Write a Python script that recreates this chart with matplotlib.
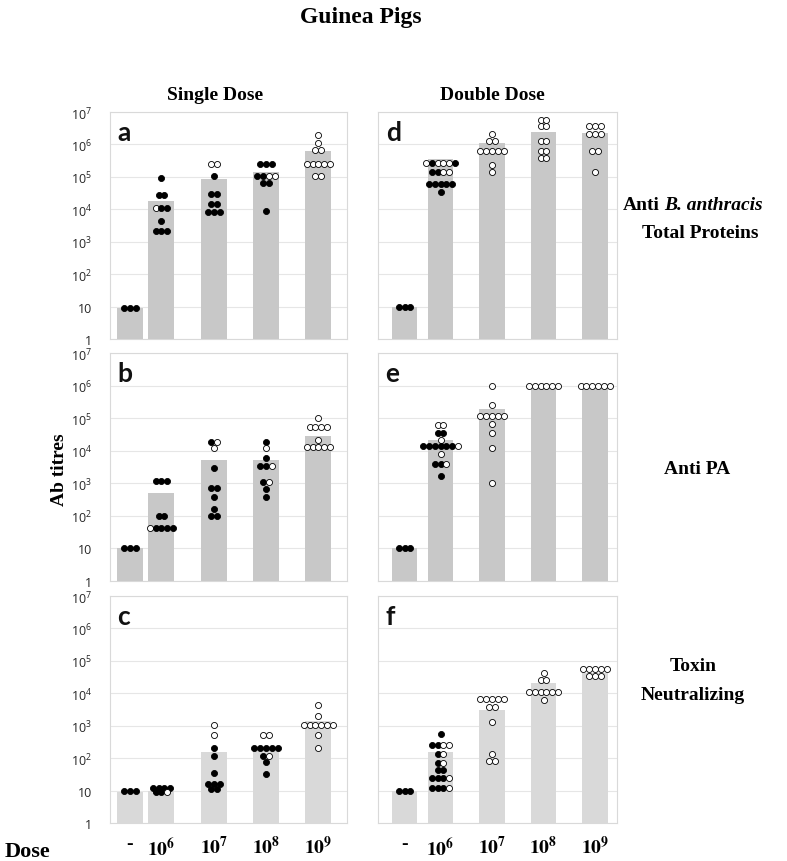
import numpy as np
import matplotlib.pyplot as plt

plt.rcParams['font.family'] = ['Liberation Serif', 'DejaVu Serif']
plt.rcParams['mathtext.fontset'] = 'custom'
plt.rcParams['mathtext.rm'] = 'Open Sans'
plt.rcParams['mathtext.it'] = 'Open Sans:italic'
plt.rcParams['mathtext.bf'] = 'Open Sans:bold'

dose_labels = ['-', r'$\mathbf{10^{6}}$', r'$\mathbf{10^{7}}$', r'$\mathbf{10^{8}}$', r'$\mathbf{10^{9}}$']
ytick_vals = [1, 10, 1e2, 1e3, 1e4, 1e5, 1e6, 1e7]
ytick_labels = ['1', '10', '$10^{2}$', '$10^{3}$', '$10^{4}$', '$10^{5}$', '$10^{6}$', '$10^{7}$']

# bar heights (geometric means) per dose: -, 1e6, 1e7, 1e8, 1e9
a_bars = [9, 1.8e4, 8.5e4, 1.4e5, 6.3e5]
b_bars = [10, 500, 5.1e3, 5.1e3, 2.8e4]
c_bars = [9, 10, 160, 210, 1.4e3]
d_bars = [10, 3.5e5, 1.1e6, 2.4e6, 2.3e6]
e_bars = [10, 2.2e4, 1.9e5, 1.05e6, 1.05e6]
f_bars = [10, 160, 3.1e3, 2.1e4, 4.1e4]

# individual animals; flags: '1' = open circle, '0' = filled
a_vals = [[9, 9, 9],
          [9e4, 2.7e4, 2.7e4, 1.07e4, 1.07e4, 1.07e4, 4.5e3, 2.2e3, 2.2e3, 2.2e3],
          [2.5e5, 2.5e5, 1.1e5, 2.9e4, 2.9e4, 1.5e4, 1.5e4, 8.1e3, 8.1e3, 8.1e3],
          [2.5e5, 2.5e5, 2.5e5, 1.1e5, 1.1e5, 1.1e5, 1.1e5, 6.5e4, 6.5e4, 9e3],
          [1.9e6, 1.1e6, 6.7e5, 6.7e5, 2.5e5, 2.5e5, 2.5e5, 2.5e5, 2.5e5, 1.1e5, 1.1e5]]
a_flags = ['000', '0001000000', '1100000000', '0000011000', '11111111111']

b_vals = [[10, 10, 10],
          [1.2e3, 1.2e3, 1.2e3, 100, 100, 41, 41, 41, 41, 41],
          [1.9e4, 1.9e4, 1.2e4, 2.9e3, 700, 700, 380, 165, 100, 100],
          [1.9e4, 1.2e4, 6e3, 3.4e3, 3.4e3, 3.4e3, 1.1e3, 1.1e3, 680, 380],
          [1e5, 5.3e4, 5.3e4, 5.3e4, 5.3e4, 2.2e4, 1.3e4, 1.3e4, 1.3e4, 1.3e4, 1.3e4]]
b_flags = ['000', '0000010000', '0110000000', '0100010100', '11111111111']

c_vals = [[10, 10, 10],
          [12, 12, 12, 12, 10, 10, 10, 8.8, 8.8, 8.8],
          [1.05e3, 520, 210, 120, 36, 16, 16, 16, 11, 11],
          [520, 520, 210, 210, 210, 210, 210, 120, 120, 77, 33],
          [4.4e3, 2e3, 1.07e3, 1.07e3, 1.07e3, 1.07e3, 1.07e3, 1.07e3, 520, 210]]
c_flags = ['000', '0000000001', '1100000000', '11000000100', '1111111111']

d_vals = [[10, 10, 10],
          [2.7e5, 2.7e5, 2.7e5, 2.7e5, 2.7e5, 2.7e5, 1.45e5, 1.45e5, 1.45e5, 1.45e5,
           6e4, 6e4, 6e4, 6e4, 6e4, 3.3e4],
          [2.1e6, 1.3e6, 1.3e6, 6.3e5, 6.3e5, 6.3e5, 6.3e5, 6.3e5, 2.4e5, 1.4e5],
          [5.8e6, 5.8e6, 3.7e6, 3.7e6, 1.3e6, 1.3e6, 6.3e5, 6.3e5, 3.7e5, 3.7e5],
          [3.7e6, 3.7e6, 3.7e6, 2.1e6, 2.1e6, 2.1e6, 6.3e5, 6.3e5, 1.4e5]]
d_flags = ['000', '1011100011000000', '1111111111', '1111111111', '111111111']

e_vals = [[10, 10, 10],
          [6.3e4, 6.3e4, 3.4e4, 3.4e4, 2.2e4, 1.4e4, 1.4e4, 1.4e4, 1.4e4, 1.4e4, 1.4e4, 1.4e4,
           8e3, 3.9e3, 3.9e3, 3.9e3, 1.7e3],
          [9.5e5, 2.5e5, 1.2e5, 1.2e5, 1.2e5, 1.2e5, 1.2e5, 6.8e4, 3.5e4, 1.2e4, 1e3],
          [1e6, 1e6, 1e6, 1e6, 1e6, 1e6],
          [1e6, 1e6, 1e6, 1e6, 1e6, 1e6]]
e_flags = ['000', '11001000000110010', '11111111111', '111111', '111111']

f_vals = [[10, 10, 10],
          [540, 260, 260, 260, 260, 135, 135, 73, 73, 42, 42, 25, 25, 25, 25, 12, 12, 12, 12],
          [6.9e3, 6.9e3, 6.9e3, 6.9e3, 6.9e3, 3.8e3, 3.8e3, 1.3e3, 130, 82, 82],
          [4.1e4, 2.6e4, 2.6e4, 1.1e4, 1.1e4, 1.1e4, 1.1e4, 1.1e4, 1.1e4, 6.4e3],
          [5.7e4, 5.7e4, 5.7e4, 5.7e4, 5.7e4, 3.3e4, 3.3e4, 3.3e4]]
f_flags = ['000', '0001101010000010001', '11111111111', '1111111111', '11111111']

left_pos = [0, 0.6, 1.6, 2.6, 3.6]
right_pos = [0, 0.7, 1.7, 2.7, 3.7]

W, H = 787, 862
fig = plt.figure(figsize=(W / 100, H / 100), dpi=100)

cols = {0: (0.1398, 0.3011, (-0.382, 4.147), left_pos),
        1: (0.4803, 0.3037, (-0.515, 4.126), right_pos)}
rows = {0: (0.6056, 0.2633), 1: (0.3248, 0.2645), 2: (0.0441, 0.2633)}

panels = [('a', a_bars, a_vals, a_flags, 0, 0), ('b', b_bars, b_vals, b_flags, 1, 0),
          ('c', c_bars, c_vals, c_flags, 2, 0), ('d', d_bars, d_vals, d_flags, 0, 1),
          ('e', e_bars, e_vals, e_flags, 1, 1), ('f', f_bars, f_vals, f_flags, 2, 1)]

dot_px = 5.8

for letter, bars, vals, flags, r, c in panels:
    left, width, xlim, pos = cols[c]
    bottom, height = rows[r]
    ax = fig.add_axes([left, bottom, width, height])
    color = '#d9d9d9' if r == 2 else '#c8c8c8'
    ax.bar(pos, np.array(bars) - 1, bottom=1, width=0.5, color=color, zorder=2)

    # simple row-based swarm: identical titres side by side
    dx = dot_px * (xlim[1] - xlim[0]) / (width * W)
    for p, vl, fl in zip(pos, vals, flags):
        for u in dict.fromkeys(vl):
            idx = [i for i, v in enumerate(vl) if v == u]
            offs = (np.arange(len(idx)) - (len(idx) - 1) / 2) * dx
            for o, i in zip(offs, idx):
                fc = 'white' if fl[i] == '1' else 'black'
                ax.scatter(p + o, u, s=19, facecolor=fc, edgecolor='black',
                           linewidth=0.6, zorder=3)

    ax.set_yscale('log')
    ax.set_ylim(1, 1e7)
    ax.set_xlim(*xlim)
    ax.minorticks_off()
    ax.set_yticks(ytick_vals)
    if c == 0:
        ax.set_yticklabels(ytick_labels, fontsize=9, color='#262626')
        for t in ax.get_yticklabels():
            t.set_math_fontfamily('custom')
            t.set_family('Open Sans')
    else:
        ax.set_yticklabels([])
    ax.set_xticks(pos)
    if r == 2:
        ax.set_xticklabels(dose_labels, fontsize=14, fontweight='bold')
        for t in ax.get_xticklabels():
            t.set_math_fontfamily('stix')
    else:
        ax.set_xticklabels([])
    ax.tick_params(length=0, axis='y', pad=13)
    ax.tick_params(length=0, axis='x', pad=9)
    ax.grid(axis='y', color='#e6e6e6', linewidth=0.8)
    ax.set_axisbelow(True)
    for s in ax.spines.values():
        s.set_color('#d9d9d9')
        s.set_linewidth(0.8)
    ax.text(0.032, 0.878, letter, transform=ax.transAxes, fontsize=19,
            fontweight='bold', family='Lato', va='baseline', color='#111111', zorder=4)

def fx(x):
    return x / W

def fy(y):
    return 1 - y / H

fig.text(fx(361), fy(17), 'Guinea Pigs', fontsize=17, fontweight='bold', ha='center', va='center')
fig.text(fx(215), fy(96), 'Single Dose', fontsize=14, fontweight='bold', ha='center', va='center')
fig.text(fx(492), fy(96), 'Double Dose', fontsize=14, fontweight='bold', ha='center', va='center')

fig.text(fx(660), fy(206), 'Anti', fontsize=14, fontweight='bold', ha='right', va='center')
fig.text(fx(664), fy(206), 'B. anthracis', fontsize=14, fontweight='bold', style='italic',
         ha='left', va='center')
fig.text(fx(700), fy(234), 'Total Proteins', fontsize=14, fontweight='bold', ha='center', va='center')
fig.text(fx(697), fy(470), 'Anti PA', fontsize=14, fontweight='bold', ha='center', va='center')
fig.text(fx(693), fy(667), 'Toxin', fontsize=14, fontweight='bold', ha='center', va='center')
fig.text(fx(693), fy(695), 'Neutralizing', fontsize=14, fontweight='bold', ha='center', va='center')

fig.text(fx(60), fy(470), 'Ab titres', fontsize=14, fontweight='bold', rotation=90,
         ha='center', va='center')
fig.text(fx(27), fy(852), 'Dose', fontsize=16, fontweight='bold', ha='center', va='center')

fig.savefig('out.png', dpi=100)
